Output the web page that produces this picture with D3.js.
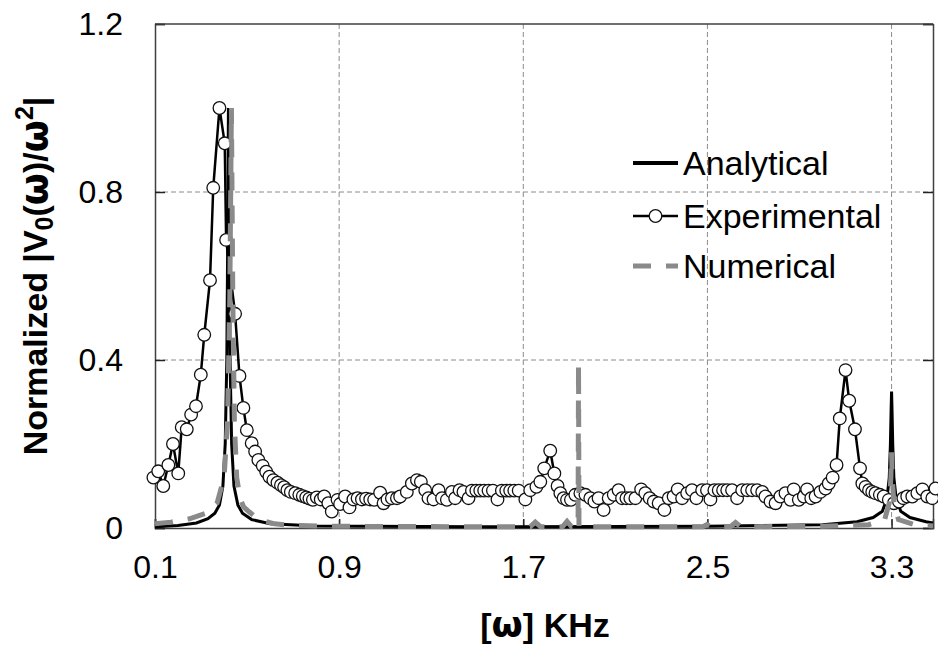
<!DOCTYPE html>
<html>
<head>
<meta charset="utf-8">
<script src="https://cdn.jsdelivr.net/npm/d3@7"></script>
<style>
  body { margin: 0; background: #fff; }
  text { font-family: "Liberation Sans", Arial, sans-serif; fill: #000; }
  .omega { font-family: "DejaVu Sans", sans-serif; }
</style>
</head>
<body>
<div id="grafico"></div>
<script>
//*********** Datos ***********/
const xTicks = [0.1, 0.9, 1.7, 2.5, 3.3]
const yTicks = [0, 0.4, 0.8, 1.2]
const seriesNames = ["Analytical", "Experimental", "Numerical"]

// Experimental (circulos)
const expFreq = [
  0.093,0.114,0.136,0.158,0.178,0.201,0.216,0.238,0.257,0.278,
  0.299,0.314,0.339,0.353,0.380,0.403,0.409,0.448,0.467,0.484,
  0.499,0.520,0.535,0.549,0.568,0.583,0.597,0.614,0.632,0.647,
  0.661,0.675,0.690,0.709,0.727,0.742,0.757,0.771,0.786,0.803,
  0.820,0.835,0.853,0.868,0.893,0.904,0.926,0.945,0.962,0.980,
  0.999,1.017,1.035,1.052,1.078,1.093,1.110,1.129,1.151,1.165,
  1.194,1.216,1.238,1.255,1.274,1.288,1.310,1.332,1.347,1.368,
  1.390,1.404,1.423,1.440,1.462,1.477,1.496,1.513,1.530,1.549,
  1.568,1.588,1.607,1.626,1.643,1.661,1.680,1.709,1.730,1.757,
  1.774,1.791,1.817,1.835,1.849,1.861,1.875,1.890,1.907,1.926,
  1.948,1.970,1.991,2.009,2.027,2.049,2.071,2.093,2.114,2.129,
  2.148,2.165,2.187,2.212,2.230,2.249,2.267,2.288,2.313,2.332,
  2.353,2.371,2.390,2.412,2.433,2.452,2.477,2.498,2.513,2.530,
  2.549,2.568,2.586,2.607,2.629,2.651,2.673,2.694,2.716,2.738,
  2.752,2.774,2.796,2.817,2.839,2.861,2.875,2.897,2.919,2.933,
  2.951,2.970,2.991,3.013,3.027,3.044,3.061,3.075,3.100,3.116,
  3.141,3.163,3.173,3.187,3.202,3.216,3.230,3.249,3.266,3.288,
  3.310,3.332,3.351,3.368,3.390,3.412,3.434,3.455,3.477,3.491
]
const expAmp = [
  0.120,0.135,0.100,0.150,0.200,0.130,0.240,0.235,0.270,0.290,
  0.365,0.460,0.590,0.810,1.000,0.916,0.686,0.510,0.362,0.286,
  0.233,0.202,0.182,0.162,0.148,0.134,0.122,0.114,0.108,0.102,
  0.097,0.090,0.086,0.083,0.079,0.076,0.073,0.070,0.067,0.073,
  0.068,0.075,0.059,0.039,0.067,0.057,0.075,0.049,0.068,0.071,
  0.068,0.070,0.068,0.067,0.084,0.059,0.068,0.071,0.071,0.075,
  0.086,0.106,0.114,0.110,0.090,0.071,0.068,0.090,0.071,0.067,
  0.086,0.071,0.090,0.086,0.071,0.089,0.089,0.089,0.089,0.089,
  0.089,0.068,0.089,0.089,0.089,0.089,0.089,0.068,0.090,0.098,
  0.110,0.142,0.184,0.130,0.100,0.083,0.071,0.067,0.067,0.079,
  0.083,0.079,0.071,0.063,0.071,0.043,0.071,0.079,0.090,0.071,
  0.071,0.071,0.071,0.092,0.083,0.071,0.063,0.059,0.043,0.071,
  0.075,0.092,0.071,0.083,0.090,0.071,0.090,0.090,0.068,0.090,
  0.090,0.090,0.090,0.090,0.071,0.090,0.090,0.090,0.090,0.086,
  0.075,0.063,0.059,0.075,0.083,0.067,0.092,0.067,0.075,0.092,
  0.071,0.075,0.086,0.094,0.106,0.120,0.150,0.261,0.376,0.303,
  0.235,0.142,0.106,0.098,0.090,0.086,0.083,0.079,0.075,0.067,
  0.059,0.063,0.071,0.075,0.075,0.083,0.092,0.075,0.071,0.094
]

// Analytical (linea negra)
const anaFreq = [0.10,0.20,0.28,0.33,0.36,0.38,0.395,0.405,0.412,0.416,0.419,0.422,0.426,0.433,0.443,0.46,0.48,0.52,0.60,0.80,1.50,2.50,3.00,3.15,3.22,3.26,3.28,3.29,3.295,3.298,3.30,3.302,3.305,3.31,3.32,3.34,3.38,3.45,3.48]
const anaAmp  = [0.003,0.006,0.012,0.022,0.035,0.055,0.10,0.20,0.40,0.70,1.00,0.70,0.40,0.20,0.10,0.055,0.035,0.020,0.010,0.005,0.003,0.004,0.008,0.015,0.025,0.040,0.070,0.120,0.200,0.280,0.325,0.280,0.200,0.120,0.070,0.040,0.025,0.015,0.012]

// Numerical (linea gris discontinua)
const numFreq = [0.10,0.17,0.25,0.32,0.37,0.40,0.415,0.425,0.432,0.438,0.445,0.455,0.47,0.485,0.51,0.55,0.62,0.70,0.90,1.50,1.73,1.752,1.775,1.87,1.89,1.91,1.938,1.940,1.942,2.00,2.48,2.498,2.515,2.60,2.622,2.645,3.00,3.20,3.27,3.29,3.297,3.30,3.303,3.31,3.33,3.40,3.48]
const numAmp  = [0.010,0.014,0.022,0.035,0.060,0.120,0.250,0.550,1.000,0.550,0.250,0.120,0.070,0.050,0.038,0.020,0.010,0.006,0.004,0.003,0.003,0.014,0.003,0.003,0.016,0.003,0.003,0.390,0.003,0.003,0.003,0.008,0.003,0.003,0.013,0.003,0.004,0.008,0.020,0.060,0.120,0.180,0.120,0.060,0.020,0.008,0.005]

//*********** Dimensiones ***********/
const anchoTotal = 938
const altoTotal = 645
const margins = { top: 24, right: 5, bottom: 117, left: 155 }
const ancho = anchoTotal - margins.left - margins.right
const alto = altoTotal - margins.top - margins.bottom

const svg = d3.select("#grafico")
  .append("svg")
  .attr("width", anchoTotal)
  .attr("height", altoTotal)

const g = svg.append("g")
  .attr("transform", `translate(${margins.left}, ${margins.top})`)

// Escaladores
const x = d3.scaleLinear().domain([0.1, 3.48]).range([0, ancho])
const y = d3.scaleLinear().domain([0, 1.2]).range([alto, 0])

// Grilla punteada
g.append("g")
  .selectAll("line")
  .data(xTicks.slice(1))
  .join("line")
  .attr("x1", (d) => x(d)).attr("x2", (d) => x(d))
  .attr("y1", 0).attr("y2", alto)
  .attr("stroke", "#8c8c8c")
  .attr("stroke-dasharray", "5,3")
g.append("g")
  .selectAll("line")
  .data(yTicks.slice(1, -1))
  .join("line")
  .attr("x1", 0).attr("x2", ancho)
  .attr("y1", (d) => y(d)).attr("y2", (d) => y(d))
  .attr("stroke", "#8c8c8c")
  .attr("stroke-dasharray", "5,3")

// Ejes
const xAxis = d3.axisBottom(x).tickValues(xTicks).tickSize(-9).tickPadding(27).tickFormat(d3.format(".1f"))
const yAxis = d3.axisLeft(y).tickValues(yTicks).tickSize(-10).tickPadding(32).tickFormat((d) => (d === 0 ? "0" : d3.format(".1f")(d)))
const yAxisRight = d3.axisRight(y).tickValues(yTicks).tickSize(-10).tickFormat("")

g.append("g").attr("transform", `translate(0, ${alto})`).call(xAxis)
g.append("g").call(yAxis)
g.append("g").attr("transform", `translate(${ancho}, 0)`).call(yAxisRight)

svg.selectAll(".domain").attr("stroke", "#404040").attr("stroke-width", 1.5)
svg.selectAll(".tick line").attr("stroke", "#222").attr("stroke-width", 1.5)
svg.selectAll(".tick text").attr("font-size", 32).attr("fill", "#000")
  .attr("font-family", '"Liberation Sans", Arial, sans-serif')

// Borde superior
g.append("line")
  .attr("x1", 0).attr("x2", ancho)
  .attr("y1", 0).attr("y2", 0)
  .attr("stroke", "#404040").attr("stroke-width", 1.5)

//*********** Series ***********/
const anaData = anaFreq.map((f, i) => ({ f, v: anaAmp[i] }))
const expData = expFreq.map((f, i) => ({ f, v: expAmp[i] }))
const numData = numFreq.map((f, i) => ({ f, v: numAmp[i] }))

const linea = d3.line().x((d) => x(d.f)).y((d) => y(d.v))

g.append("path")
  .datum(anaData)
  .attr("d", linea)
  .attr("fill", "none")
  .attr("stroke", "#000")
  .attr("stroke-width", 3)

g.append("path")
  .datum(expData)
  .attr("d", linea)
  .attr("fill", "none")
  .attr("stroke", "#000")
  .attr("stroke-width", 2.5)

g.append("g")
  .selectAll("circle")
  .data(expData)
  .join("circle")
  .attr("cx", (d) => x(d.f))
  .attr("cy", (d) => y(d.v))
  .attr("r", 6.3)
  .attr("fill", "#fff")
  .attr("stroke", "#111")
  .attr("stroke-width", 1.3)

g.append("path")
  .datum(numData)
  .attr("d", linea)
  .attr("fill", "none")
  .attr("stroke", "#8a8a8a")
  .attr("stroke-width", 5)
  .attr("stroke-dasharray", "18,15")

//*********** Leyenda ***********/
const leyenda = svg.append("g").attr("transform", "translate(633, 0)")
const filas = [163, 216, 266]

leyenda.append("line")
  .attr("x1", 0).attr("x2", 45).attr("y1", filas[0]).attr("y2", filas[0])
  .attr("stroke", "#000").attr("stroke-width", 4)
leyenda.append("line")
  .attr("x1", 0).attr("x2", 45).attr("y1", filas[1]).attr("y2", filas[1])
  .attr("stroke", "#000").attr("stroke-width", 2.5)
leyenda.append("circle")
  .attr("cx", 22.5).attr("cy", filas[1]).attr("r", 6.3)
  .attr("fill", "#fff").attr("stroke", "#111").attr("stroke-width", 1.3)
leyenda.append("line")
  .attr("x1", 0).attr("x2", 45).attr("y1", filas[2]).attr("y2", filas[2])
  .attr("stroke", "#8a8a8a").attr("stroke-width", 5)
  .attr("stroke-dasharray", "18,15")

leyenda.selectAll("text.nombre")
  .data(seriesNames)
  .join("text")
  .attr("class", "nombre")
  .attr("x", 50)
  .attr("y", (d, i) => filas[i])
  .attr("dy", "0.36em")
  .attr("font-size", 34)
  .text((d) => d)

//*********** Titulos de ejes ***********/
const tituloY = svg.append("text")
  .attr("transform", "translate(47, 276) rotate(-90)")
  .attr("text-anchor", "middle")
  .attr("font-size", 34)
  .attr("font-weight", "bold")
tituloY.append("tspan").text("Normalized |V")
tituloY.append("tspan").attr("font-size", 25).attr("dy", 6).text("0")
tituloY.append("tspan").attr("dy", -6).text("(")
tituloY.append("tspan").attr("class", "omega").attr("font-size", 37).text("ω")
tituloY.append("tspan").text(")/")
tituloY.append("tspan").attr("class", "omega").attr("font-size", 37).text("ω")
tituloY.append("tspan").attr("font-size", 25).attr("dy", -14).text("2")
tituloY.append("tspan").attr("dy", 14).text("|")

const tituloX = svg.append("text")
  .attr("x", 545)
  .attr("y", 637)
  .attr("text-anchor", "middle")
  .attr("font-size", 34)
  .attr("font-weight", "bold")
tituloX.append("tspan").text("[")
tituloX.append("tspan").attr("class", "omega").attr("font-size", 36).text("ω")
tituloX.append("tspan").text("] KHz")
</script>
</body>
</html>
